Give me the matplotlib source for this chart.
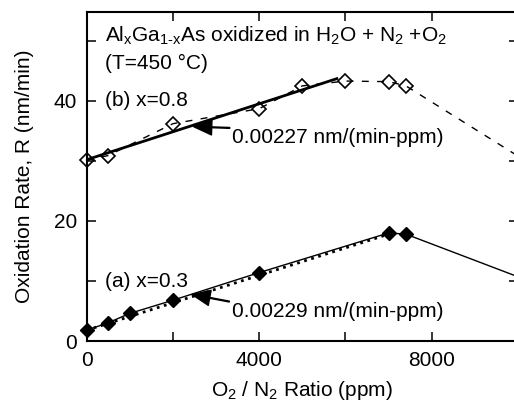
import numpy as np
import matplotlib
matplotlib.use("Agg")
import matplotlib.pyplot as plt

plt.rcParams['font.family'] = ['Liberation Sans', 'DejaVu Sans']
plt.rcParams['mathtext.fontset'] = 'custom'
plt.rcParams['mathtext.rm'] = 'Liberation Sans'
plt.rcParams['mathtext.it'] = 'Liberation Sans:italic'
plt.rcParams['font.size'] = 15

# (a) x=0.3, filled diamonds
a_ratio = [0, 500, 1000, 2000, 4000, 7000, 7400, 10000]
a_rate = [1.8, 3.05, 4.6, 6.8, 11.4, 18.0, 17.8, 10.7]
# (b) x=0.8, open diamonds
b_ratio = [0, 500, 2000, 4000, 5000, 6000, 7000, 7400, 10000]
b_rate = [30.1, 30.9, 36.2, 38.7, 42.5, 43.3, 43.2, 42.5, 30.8]

# linear fits (end points)
fit_a_ratio = [0, 7000]
fit_a_rate = [1.8, 17.8]
fit_b_ratio = [0, 5800]
fit_b_rate = [30.2, 43.7]

fig = plt.figure(figsize=(5.14, 4.03), dpi=100)
ax = fig.add_axes([0.1687, 0.1538, 0.8391, 0.8164])

ax.plot(a_ratio, a_rate, color='k', lw=1.0, marker='D', ms=7.5,
        mfc='k', mec='k', markevery=slice(0, 7), clip_on=False, zorder=3)
ax.plot(fit_a_ratio, fit_a_rate, color='k', lw=2.0, ls=':', zorder=2)

ax.plot(b_ratio, b_rate, color='k', lw=1.0, ls=(0, (5, 6)), marker='D', ms=7.5,
        mfc='none', mec='k', mew=1.2, markevery=slice(0, 8), clip_on=False, zorder=3)
ax.plot(fit_b_ratio, fit_b_rate, color='k', lw=2.0, zorder=2)

ax.set_xlim(0, 10000)
ax.set_ylim(0, 54.8)
ax.set_xticks([0, 4000, 8000])
ax.set_xticks([2000, 6000, 10000], minor=True)
ax.set_yticks([0, 20, 40])
ax.set_yticks([10, 30, 50], minor=True)
ax.tick_params(which='both', direction='in', length=6.5, width=1.1,
               top=True, right=True, pad=7)
for s in ax.spines.values():
    s.set_linewidth(1.5)

ax.set_xlabel(r'O$_2$ / N$_2$ Ratio (ppm)', labelpad=7)
ax.set_ylabel('Oxidation Rate, R (nm/min)', labelpad=14)

ax.text(430, 50.8, r'Al$_\mathrm{x}$Ga$_\mathrm{1\text{-}x}$As oxidized in H$_2$O + N$_2$ +O$_2$',
        ha='left', va='center')
ax.text(430, 46.3, '(T=450 °C)', ha='left', va='center')
ax.text(430, 40.0, '(b) x=0.8', ha='left', va='center')
ax.text(430, 9.9, '(a) x=0.3', ha='left', va='center')

arrow = dict(width=0.6, headwidth=11, headlength=13, color='k', shrink=0)
ax.annotate('0.00227 nm/(min-ppm)', xy=(2480, 35.7), xytext=(3380, 33.9),
            ha='left', va='center', arrowprops=arrow)
ax.annotate('0.00229 nm/(min-ppm)', xy=(2440, 7.75), xytext=(3370, 4.9),
            ha='left', va='center', arrowprops=arrow)

fig.savefig('out.png', dpi=100)
